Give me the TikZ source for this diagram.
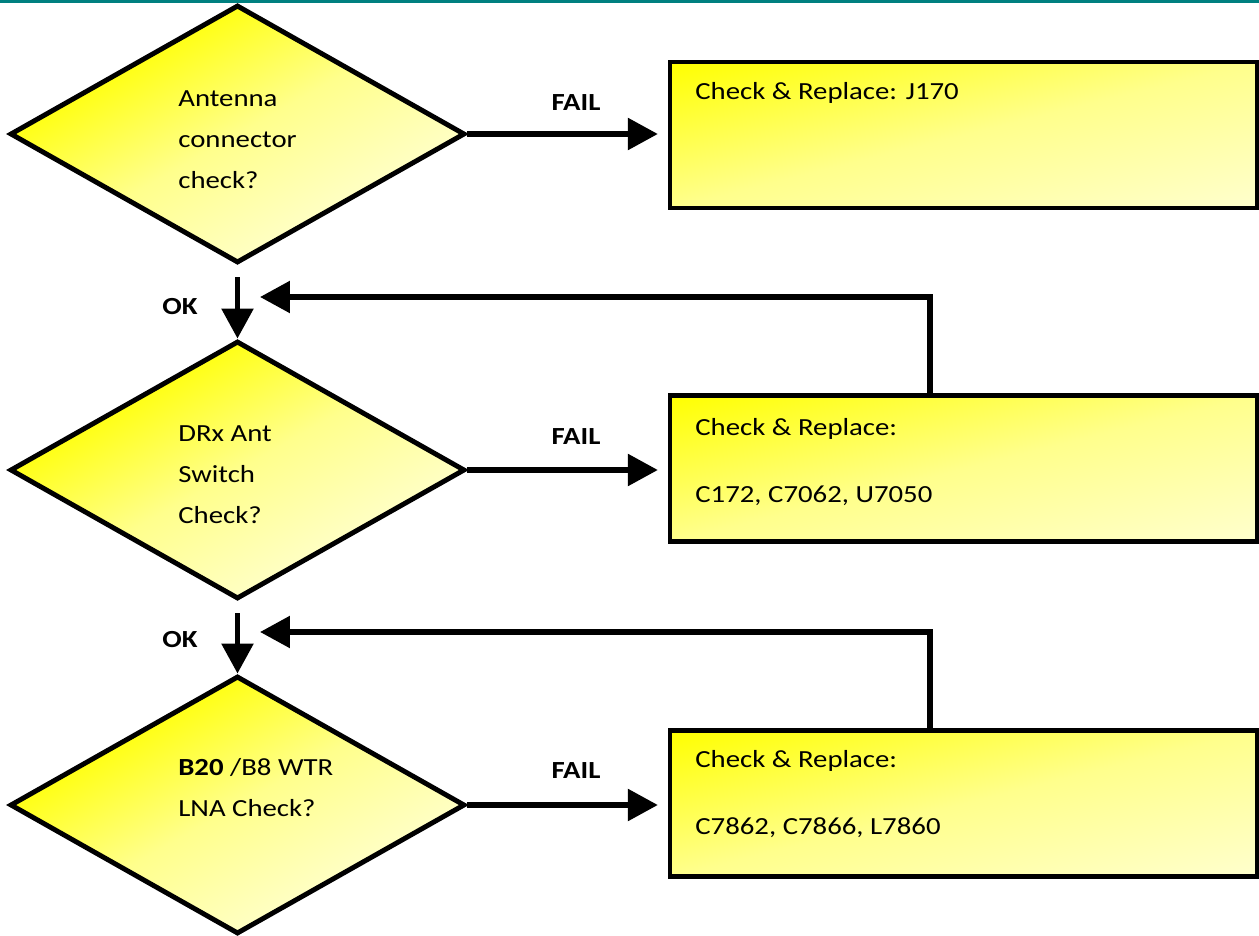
\documentclass[tikz,border=0pt]{standalone}
\usepackage{fontspec}
\setmainfont[FakeStretch=1.17]{Carlito}
\usetikzlibrary{arrows.meta,positioning,shapes.geometric}
\definecolor{tealbar}{RGB}{0,128,128}
\definecolor{paleyel}{RGB}{255,255,205}
\definecolor{midyel}{RGB}{255,255,140}
\pgfdeclareverticalshading{yelshade}{100bp}{color(0bp)=(paleyel); color(25bp)=(paleyel);
  color(50bp)=(midyel); color(75bp)=(yellow); color(100bp)=(yellow)}
% diagonal fill, stretched with the shape
\newcommand{\gradfill}[2]{%
  \begin{pgfscope}
  \pgftransformshift{\pgfpointanchor{path picture bounding box}{center}}
  \pgftransformxscale{#1}\pgftransformyscale{#2}
  \pgftransformrotate{45}
  \pgflowlevelsynccm
  \pgfuseshading{yelshade}
  \end{pgfscope}}

\begin{document}
\begin{tikzpicture}[x=0.02cm,y=-0.02cm,
every node/.style={font=\fontsize{14}{23.3}\selectfont},
decision/.style={diamond,draw,line width=2.8pt,minimum width=9.1cm,minimum height=5.16cm,
  inner sep=0pt,path picture={\gradfill{4.3}{2.44}}},
action/.style={rectangle,draw,line width=2.5pt,minimum width=11.74cm,minimum height=2.92cm,
  inner sep=0pt,path picture={\gradfill{9.38}{2.334}}},
txt/.style={align=left,inner sep=0pt},
lbl/.style={font=\fontsize{14}{17}\selectfont\bfseries,inner sep=0pt},
flow/.style={line width=3.2pt,-{Triangle[length=0.6cm,width=0.62cm]}}]
\useasboundingbox (0,0) rectangle (1259,936);
\fill[tealbar] (0,0) rectangle (1259,3);

% decisions
\node[decision] (dAnt) at (237.5,134) {};
\node[decision] (dDrx) at (237.5,470) {};
\node[decision] (dLna) at (237.5,805) {};
\node[txt,anchor=west] (tAnt) at (178,140) {Antenna\\connector\\check?};
\node[txt,anchor=west] (tDrx) at (178,475) {DRx Ant\\Switch\\Check?};
\node[txt,anchor=west] (tLna) at (178,788) {\textbf{B20} /B8 WTR\\LNA Check?};

% repair boxes
\node[action] (bJ) at (963.5,135) {};
\node[action] (bSw) at (963.5,468.5) {};
\node[action] (bLna) at (963.5,803.5) {};
\node[txt,anchor=base west] (tJ) at (695,100) {Check \& Replace: J170};
\node[txt,anchor=west] (tSw) at (695,462) {Check \& Replace:\\[0.54cm]C172, C7062, U7050};
\node[txt,anchor=west] (tLnaB) at (695,794) {Check \& Replace:\\[0.54cm]C7862, C7866, L7860};

% labels
\node[lbl] (fA) at (576,103) {FAIL};
\node[lbl] (fB) at (576,437) {FAIL};
\node[lbl] (fC) at (576,771) {FAIL};
\node[lbl] (okA) at (180,307) {OK};
\node[lbl] (okB) at (180,640) {OK};

% flow
\draw[flow,shorten >=0.2cm] (dAnt.east) -- (dAnt.east -| bJ.west);
\draw[flow,shorten >=0.2cm] (dDrx.east) -- (dDrx.east -| bSw.west);
\draw[flow,shorten >=0.2cm] (dLna.east) -- (dLna.east -| bLna.west);
\draw[flow,shorten <=0.24cm] (dAnt.south) -- (dDrx.north);
\draw[flow,shorten <=0.24cm] (dDrx.south) -- (dLna.north);

% back to the next check
\coordinate (kSw) at (930,297);
\coordinate (rSw) at (260,297);
\coordinate (kLna) at (930,632);
\coordinate (rLna) at (260,632);
\draw[flow] (kSw |- bSw.north) -- (kSw) -- (rSw);
\draw[flow] (kLna |- bLna.north) -- (kLna) -- (rLna);
\end{tikzpicture}
\end{document}
